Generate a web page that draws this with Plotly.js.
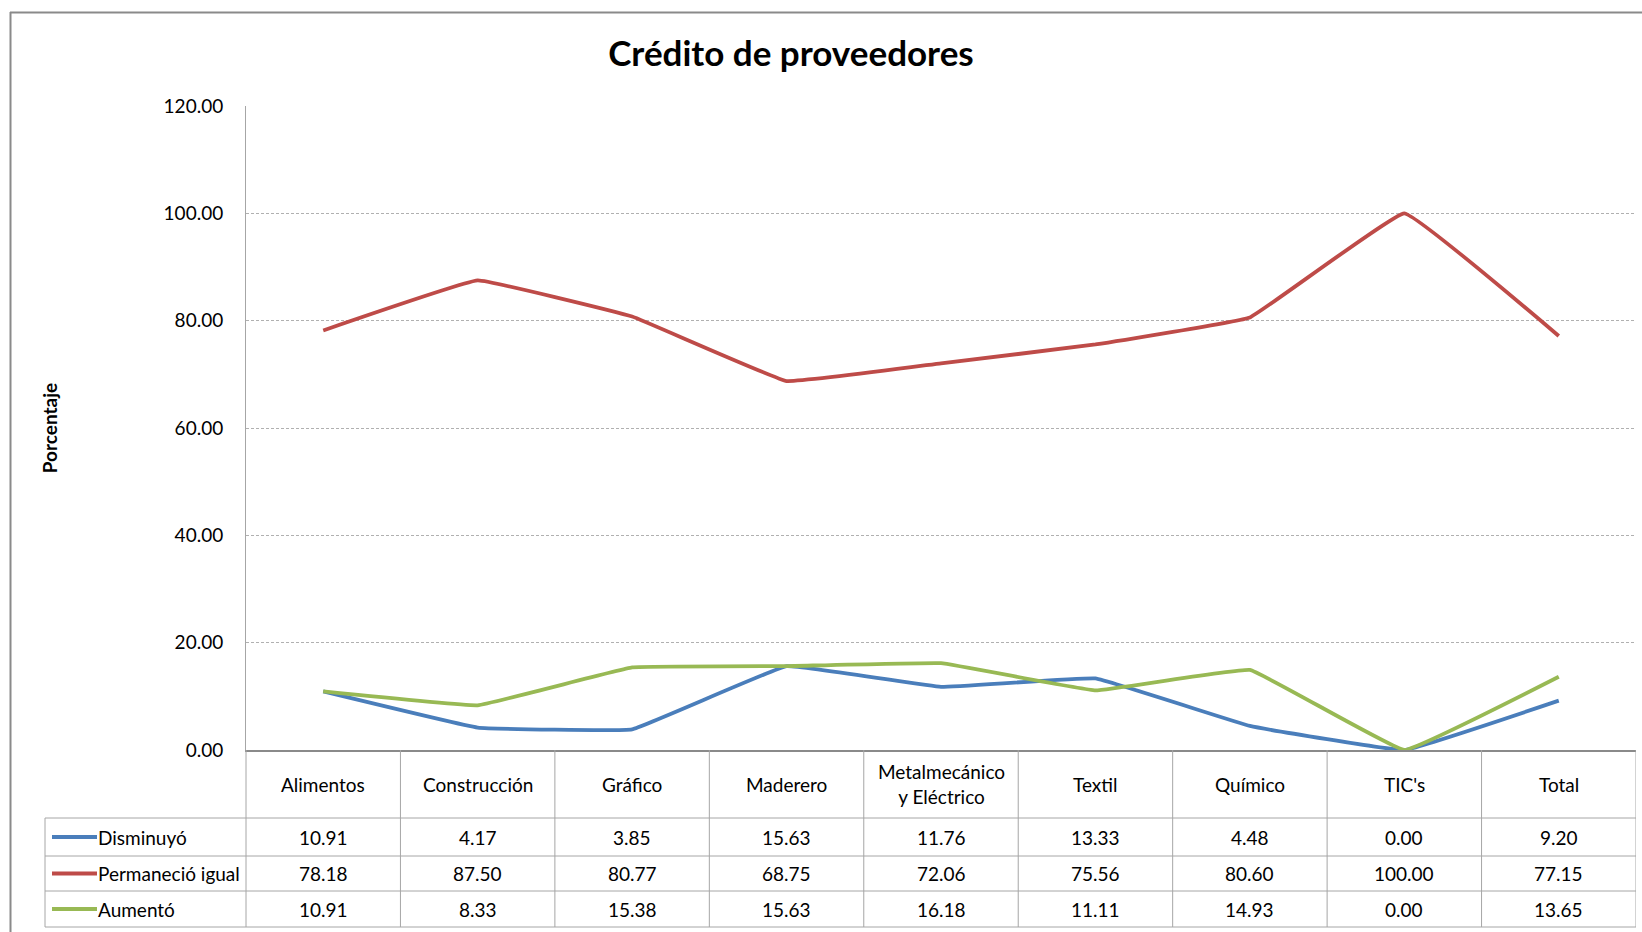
<!DOCTYPE html>
<html>
<head>
<meta charset="utf-8">
<script src="https://cdn.plot.ly/plotly-3.0.1.min.js"></script>
<style>html,body{margin:0;padding:0;background:#fff;}#chart{width:1642px;height:932px;}</style>
</head>
<body>
<div id="chart"></div>
<script>
const categories = ["Alimentos", "Construcción", "Gráfico", "Maderero", "Metalmecánico<br>y Eléctrico", "Textil", "Químico", "TIC's", "Total"];
const seriesNames = ["Disminuyó", "Permaneció igual", "Aumentó"];
const disminuyo = [10.91, 4.17, 3.85, 15.63, 11.76, 13.33, 4.48, 0.00, 9.20];
const permanecio = [78.18, 87.50, 80.77, 68.75, 72.06, 75.56, 80.60, 100.00, 77.15];
const aumento = [10.91, 8.33, 15.38, 15.63, 16.18, 11.11, 14.93, 0.00, 13.65];
const colors = ["#4a7ebb", "#be4b48", "#98b954"];
const seriesValues = [disminuyo, permanecio, aumento];

// layout geometry (pixels)
const W = 1642, H = 932;
const L = 246, R = 1636, T = 106, B = 750;
const pw = R - L, ph = B - T;
const px = x => (x - L) / pw;
const py = y => (B - y) / ph;
const rowLines = [818, 856, 891, 927];
const tableLeft = 45;
const idx = categories.map((_, i) => i);
const fontFam = 'Lato, "Open Sans", sans-serif';

const traces = seriesValues.map((vals, s) => ({
  type: 'scatter', mode: 'lines', name: seriesNames[s],
  x: idx, y: vals,
  line: {color: colors[s], width: 3.8, shape: 'spline', smoothing: 0.2},
  showlegend: false, hoverinfo: 'skip', cliponaxis: false
}));

const gridColor = '#a6a6a6';
const shapes = [];
const annotations = [];
// horizontal table lines
rowLines.forEach(y => shapes.push({type: 'line', xref: 'paper', yref: 'paper', x0: px(tableLeft), x1: px(R), y0: py(y), y1: py(y), line: {color: gridColor, width: 1}}));
// left border of legend column
shapes.push({type: 'line', xref: 'paper', yref: 'paper', x0: px(tableLeft), x1: px(tableLeft), y0: py(rowLines[0]), y1: py(rowLines[3]), line: {color: gridColor, width: 1}});
// plot-left vertical through table
shapes.push({type: 'line', xref: 'paper', yref: 'paper', x0: 0, x1: 0, y0: 0, y1: py(rowLines[3]), line: {color: gridColor, width: 1}});
// column separators
for (let i = 0; i < categories.length; i++) {
  shapes.push({type: 'line', xref: 'x', yref: 'paper', x0: i + 0.5, x1: i + 0.5, y0: 0, y1: py(rowLines[3]), line: {color: gridColor, width: 1}});
}
// outer frame (top and left)
shapes.push({type: 'line', xref: 'paper', yref: 'paper', x0: px(10), x1: px(W + 5), y0: py(12.5), y1: py(12.5), line: {color: '#8a8a8a', width: 2}});
shapes.push({type: 'line', xref: 'paper', yref: 'paper', x0: px(10.5), x1: px(10.5), y0: py(12), y1: py(H + 5), line: {color: '#8a8a8a', width: 2}});

const cellFont = {family: fontFam, size: 19, color: '#000'};
// header labels
const headerY = py((B + rowLines[0]) / 2);
categories.forEach((c, i) => annotations.push({xref: 'x', yref: 'paper', x: i, y: headerY, text: c, showarrow: false, font: cellFont, xanchor: 'center', yanchor: 'middle'}));
// data rows
seriesValues.forEach((vals, s) => {
  const yc = py((rowLines[s] + rowLines[s + 1]) / 2);
  vals.forEach((v, i) => annotations.push({xref: 'x', yref: 'paper', x: i, y: yc, text: v.toFixed(2), showarrow: false, font: cellFont, xanchor: 'center', yanchor: 'middle'}));
  shapes.push({type: 'line', xref: 'paper', yref: 'paper', x0: px(52), x1: px(97), y0: yc, y1: yc, line: {color: colors[s], width: 3.8}});
  annotations.push({xref: 'paper', yref: 'paper', x: px(96), y: yc, text: seriesNames[s], showarrow: false, font: cellFont, xanchor: 'left', yanchor: 'middle'});
});

const layout = {
  width: W, height: H,
  margin: {l: L, r: W - R, t: T, b: H - B, pad: 0},
  paper_bgcolor: '#fff', plot_bgcolor: '#fff',
  title: {text: '<b>Crédito de proveedores</b>', x: 791 / W, xanchor: 'center', xref: 'container', y: 1 - 54 / H, yanchor: 'middle', yref: 'container',
    font: {family: fontFam, size: 35, color: '#000'}},
  xaxis: {range: [-0.5, categories.length - 0.5], showticklabels: false, showgrid: false, zeroline: false, showline: true, linecolor: '#8a8a8a', linewidth: 1.5, ticks: '', fixedrange: true},
  yaxis: {range: [0, 120], dtick: 20, tick0: 0, tickformat: '.2f', showgrid: true, gridcolor: '#b0b0b0', griddash: '3px,2px', gridwidth: 1,
    zeroline: false, showline: true, linecolor: '#a6a6a6', linewidth: 1, ticks: '', ticklabelstandoff: 18,
    tickfont: {family: fontFam, size: 19, color: '#000'},
    title: {text: '<b>Porcentaje</b>', standoff: 100, font: {family: fontFam, size: 19, color: '#000'}}, fixedrange: true},
  shapes: shapes, annotations: annotations, showlegend: false
};

Plotly.newPlot('chart', traces, layout, {displayModeBar: false, staticPlot: true});
</script>
</body>
</html>
